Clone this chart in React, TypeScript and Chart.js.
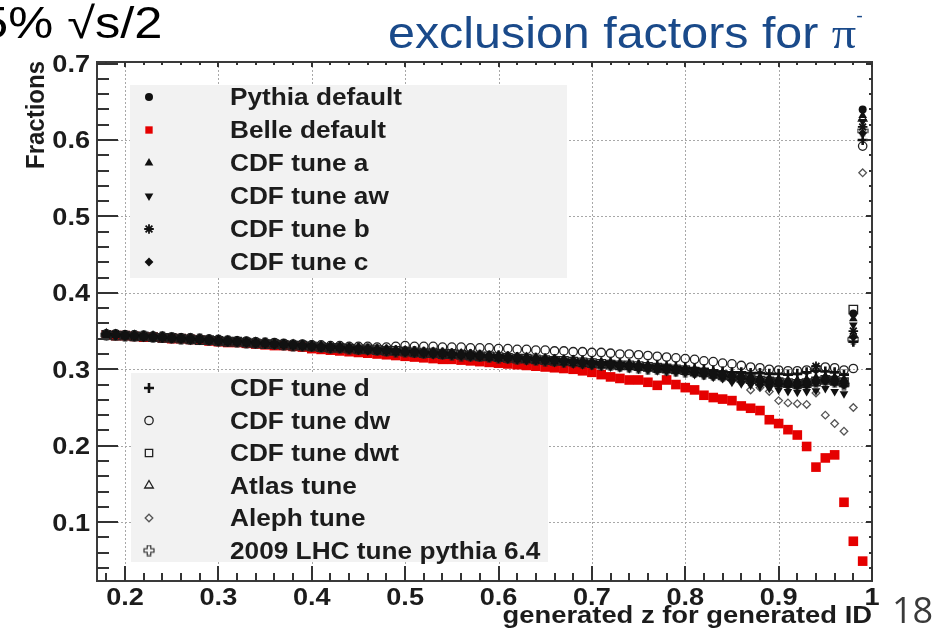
import React, { useEffect, useRef } from "react";
import { Chart, registerables } from "chart.js";
import { drawPoint } from "chart.js/helpers";

Chart.register(...registerables);

// Generated z bin centres (bin width 0.01)
const Z_BINS = [
  0.18, 0.19,
  0.20, 0.21, 0.22, 0.23, 0.24, 0.25, 0.26, 0.27, 0.28, 0.29,
  0.30, 0.31, 0.32, 0.33, 0.34, 0.35, 0.36, 0.37, 0.38, 0.39,
  0.40, 0.41, 0.42, 0.43, 0.44, 0.45, 0.46, 0.47, 0.48, 0.49,
  0.50, 0.51, 0.52, 0.53, 0.54, 0.55, 0.56, 0.57, 0.58, 0.59,
  0.60, 0.61, 0.62, 0.63, 0.64, 0.65, 0.66, 0.67, 0.68, 0.69,
  0.70, 0.71, 0.72, 0.73, 0.74, 0.75, 0.76, 0.77, 0.78, 0.79,
  0.80, 0.81, 0.82, 0.83, 0.84, 0.85, 0.86, 0.87, 0.88, 0.89,
  0.90, 0.91, 0.92, 0.93, 0.94, 0.95, 0.96, 0.97, 0.98, 0.99,
];

// Exclusion fractions per tune
const PYTHIA_DEFAULT = [
  .345, .345,
  .344, .344, .343, .342, .342, .341, .340, .340, .339, .338,
  .337, .337, .336, .335, .334, .334, .333, .332, .332, .331,
  .330, .329, .329, .328, .327, .327, .326, .325, .325, .324,
  .323, .323, .322, .321, .321, .320, .319, .318, .318, .317,
  .316, .315, .315, .314, .313, .312, .312, .311, .310, .309,
  .308, .307, .306, .305, .305, .304, .303, .302, .301, .300,
  .299, .298, .296, .295, .293, .291, .290, .288, .286, .285,
  .284, .283, .282, .283, .285, .287, .286, .284, .373, .640,
];

const BELLE_DEFAULT = [
  .345, .344,
  .344, .343, .342, .342, .341, .340, .340, .339, .338, .337,
  .336, .335, .335, .334, .333, .332, .331, .331, .330, .329,
  .327, .326, .325, .324, .323, .322, .321, .320, .319, .318,
  .317, .316, .315, .314, .313, .313, .312, .311, .310, .309,
  .308, .307, .306, .305, .304, .303, .302, .301, .300, .298,
  .296, .293, .290, .288, .286, .286, .283, .279, .286, .280,
  .276, .273, .266, .263, .261, .259, .252, .249, .246, .234,
  .229, .221, .214, .199, .172, .184, .188, .126, .075, .049,
];

const CDF_A = [
  .346, .345,
  .345, .344, .343, .343, .342, .341, .341, .340, .339, .339,
  .338, .337, .336, .336, .335, .334, .333, .333, .332, .331,
  .331, .330, .329, .328, .328, .327, .327, .326, .325, .325,
  .324, .323, .322, .322, .321, .321, .320, .319, .318, .318,
  .317, .316, .316, .315, .314, .313, .313, .312, .311, .311,
  .310, .309, .308, .307, .306, .306, .305, .304, .303, .302,
  .301, .300, .299, .297, .296, .294, .293, .291, .290, .289,
  .288, .286, .286, .287, .289, .291, .290, .287, .366, .632,
];

const CDF_AW = [
  .344, .344,
  .343, .343, .342, .341, .341, .340, .339, .338, .338, .337,
  .336, .336, .335, .334, .333, .333, .332, .331, .330, .330,
  .329, .328, .327, .327, .326, .325, .324, .324, .323, .322,
  .322, .321, .320, .319, .319, .318, .317, .316, .316, .315,
  .314, .313, .312, .311, .311, .310, .309, .308, .307, .306,
  .305, .304, .303, .302, .301, .300, .299, .298, .297, .296,
  .295, .293, .292, .290, .288, .283, .281, .279, .277, .275,
  .273, .271, .270, .271, .272, .275, .271, .268, .358, .624,
];

const CDF_B = [
  .345, .346,
  .344, .343, .343, .342, .341, .341, .340, .339, .339, .338,
  .337, .336, .336, .335, .334, .333, .333, .332, .331, .330,
  .330, .329, .328, .328, .327, .326, .326, .325, .324, .323,
  .323, .322, .321, .321, .320, .319, .319, .318, .317, .316,
  .315, .315, .314, .313, .312, .312, .311, .310, .309, .308,
  .307, .306, .306, .304, .304, .303, .302, .300, .300, .299,
  .297, .296, .295, .293, .292, .290, .288, .287, .284, .283,
  .281, .281, .279, .280, .304, .286, .284, .281, .350, .617,
];

const CDF_C = [
  .345, .344,
  .344, .343, .342, .342, .341, .340, .340, .339, .338, .338,
  .337, .336, .335, .335, .334, .333, .332, .332, .331, .330,
  .329, .329, .328, .327, .327, .326, .325, .324, .324, .323,
  .322, .322, .321, .320, .319, .319, .318, .317, .316, .316,
  .315, .314, .313, .313, .312, .311, .310, .309, .309, .308,
  .307, .306, .305, .304, .303, .302, .301, .300, .299, .298,
  .297, .295, .294, .292, .291, .289, .287, .285, .283, .281,
  .280, .279, .278, .279, .282, .284, .282, .279, .342, .609,
];

const CDF_D = [
  .346, .345,
  .345, .344, .344, .343, .342, .341, .341, .340, .339, .339,
  .338, .337, .337, .336, .335, .334, .334, .333, .332, .332,
  .331, .330, .330, .329, .328, .328, .327, .326, .326, .325,
  .324, .324, .323, .322, .322, .321, .320, .320, .319, .318,
  .318, .317, .316, .315, .315, .314, .313, .312, .312, .311,
  .310, .309, .309, .308, .307, .306, .305, .305, .304, .303,
  .302, .301, .300, .298, .297, .296, .296, .295, .295, .294,
  .294, .293, .294, .296, .298, .297, .296, .293, .336, .600,
];

const CDF_DW = [
  .346, .346,
  .345, .345, .344, .343, .343, .342, .341, .341, .340, .339,
  .339, .338, .337, .337, .336, .335, .335, .334, .333, .333,
  .332, .332, .331, .331, .330, .330, .330, .329, .329, .330,
  .331, .330, .330, .330, .329, .329, .329, .328, .328, .328,
  .327, .327, .326, .326, .325, .325, .324, .324, .323, .323,
  .322, .322, .321, .320, .320, .319, .318, .317, .316, .315,
  .314, .313, .311, .310, .308, .307, .305, .303, .302, .300,
  .299, .298, .298, .299, .301, .303, .302, .299, .301, .592,
];

const CDF_DWT = [
  .345, .344,
  .344, .343, .343, .342, .341, .341, .340, .339, .338, .338,
  .337, .336, .336, .335, .334, .333, .333, .332, .331, .331,
  .330, .329, .328, .328, .327, .326, .326, .325, .324, .324,
  .323, .322, .321, .321, .320, .320, .319, .318, .317, .317,
  .316, .315, .314, .314, .313, .312, .311, .311, .310, .309,
  .308, .307, .306, .305, .305, .304, .303, .302, .301, .300,
  .299, .297, .296, .294, .292, .291, .289, .287, .285, .284,
  .283, .282, .281, .282, .284, .286, .285, .283, .378, null,
];

const ATLAS_TUNE = [
  .346, .345,
  .344, .344, .343, .343, .342, .341, .340, .340, .339, .338,
  .338, .337, .336, .335, .335, .334, .333, .332, .332, .331,
  .330, .330, .329, .328, .328, .327, .326, .326, .325, .324,
  .324, .323, .322, .322, .321, .320, .320, .319, .318, .317,
  .317, .316, .315, .315, .314, .313, .312, .312, .311, .310,
  .309, .308, .307, .306, .306, .305, .304, .303, .302, .301,
  .300, .299, .297, .296, .294, .293, .291, .289, .288, .286,
  .285, .284, .284, .285, .287, .289, .288, .285, .345, .628,
];

const ALEPH_TUNE = [
  .345, .345,
  .344, .343, .343, .342, .341, .341, .340, .339, .339, .338,
  .337, .337, .336, .335, .334, .334, .333, .332, .331, .331,
  .330, .329, .329, .328, .327, .327, .326, .325, .325, .324,
  .323, .323, .322, .321, .320, .320, .319, .318, .318, .317,
  .316, .315, .315, .314, .313, .312, .311, .311, .310, .309,
  .308, .307, .306, .305, .304, .303, .302, .300, .299, .298,
  .296, .294, .292, .290, .288, .285, .283, .273, .276, .271,
  .259, .256, .255, .254, .269, .240, .229, .219, .250, .557,
];

const LHC_2009 = [
  .345, .345,
  .344, .344, .343, .342, .342, .341, .340, .339, .339, .338,
  .337, .337, .336, .335, .334, .334, .333, .332, .331, .331,
  .330, .329, .328, .328, .327, .326, .326, .325, .324, .323,
  .323, .322, .321, .321, .320, .319, .318, .318, .317, .316,
  .315, .315, .314, .313, .312, .311, .311, .310, .309, .308,
  .307, .306, .305, .304, .303, .302, .301, .300, .299, .298,
  .297, .296, .294, .293, .291, .289, .287, .286, .284, .282,
  .281, .280, .280, .281, .283, .285, .283, .280, .339, .612,
];

// Axis ticks and labels
const X_TICKS = [0.2, 0.3, 0.4, 0.5, 0.6, 0.7, 0.8, 0.9, 1.0];
const X_TICK_LABELS = ["0.2", "0.3", "0.4", "0.5", "0.6", "0.7", "0.8", "0.9", "1"];
const Y_TICKS = [0.1, 0.2, 0.3, 0.4, 0.5, 0.6, 0.7];
const Y_TICK_LABELS = ["0.1", "0.2", "0.3", "0.4", "0.5", "0.6", "0.7"];

const X_TITLE = "generated z for generated ID";
const Y_TITLE = "Fractions";

const X_MIN = 0.17;
const X_MAX = 1.0;
const Y_MIN = 0.023;
const Y_MAX = 0.702;

const INK = "#1c1c1c";
const STRETCH = 1.13;

type Marker = {
  pointStyle: any;
  radius: number;
  fill: string;
  stroke: string;
  borderWidth: number;
  rotation?: number;
};

type Series = { label: string; data: (number | null)[]; marker: Marker; order: number };

function makeOpenCross(): HTMLCanvasElement {
  const c = document.createElement("canvas");
  c.width = 12;
  c.height = 12;
  const g = c.getContext("2d")!;
  const a = 1.8;
  const m = 6;
  const r = 5;
  g.strokeStyle = "#222";
  g.lineWidth = 1.1;
  g.beginPath();
  g.moveTo(m - a, m - r);
  g.lineTo(m + a, m - r);
  g.lineTo(m + a, m - a);
  g.lineTo(m + r, m - a);
  g.lineTo(m + r, m + a);
  g.lineTo(m + a, m + a);
  g.lineTo(m + a, m + r);
  g.lineTo(m - a, m + r);
  g.lineTo(m - a, m + a);
  g.lineTo(m - r, m + a);
  g.lineTo(m - r, m - a);
  g.lineTo(m - a, m - a);
  g.closePath();
  g.stroke();
  return c;
}

function buildSeries(openCross: HTMLCanvasElement): Series[] {
  const none = "rgba(0,0,0,0)";
  return [
    { label: "Pythia default", data: PYTHIA_DEFAULT, order: 0,
      marker: { pointStyle: "circle", radius: 4, fill: "#111", stroke: "#111", borderWidth: 0 } },
    { label: "Belle default", data: BELLE_DEFAULT, order: 1,
      marker: { pointStyle: "rect", radius: 6.8, fill: "#e50000", stroke: "#e50000", borderWidth: 0 } },
    { label: "CDF tune a", data: CDF_A, order: 0,
      marker: { pointStyle: "triangle", radius: 5, fill: "#111", stroke: "#111", borderWidth: 0 } },
    { label: "CDF tune aw", data: CDF_AW, order: 0,
      marker: { pointStyle: "triangle", radius: 5, fill: "#111", stroke: "#111", borderWidth: 0, rotation: 180 } },
    { label: "CDF tune b", data: CDF_B, order: 0,
      marker: { pointStyle: "star", radius: 4.8, fill: "#111", stroke: "#111", borderWidth: 1.8 } },
    { label: "CDF tune c", data: CDF_C, order: 0,
      marker: { pointStyle: "rectRot", radius: 4.4, fill: "#111", stroke: "#111", borderWidth: 0 } },
    { label: "CDF tune d", data: CDF_D, order: 0,
      marker: { pointStyle: "cross", radius: 5, fill: "#111", stroke: "#111", borderWidth: 2.6 } },
    { label: "CDF tune dw", data: CDF_DW, order: 0,
      marker: { pointStyle: "circle", radius: 4.2, fill: none, stroke: "#222", borderWidth: 1.3 } },
    { label: "CDF tune dwt", data: CDF_DWT, order: 0,
      marker: { pointStyle: "rect", radius: 6, fill: none, stroke: "#222", borderWidth: 1.3 } },
    { label: "Atlas tune", data: ATLAS_TUNE, order: 0,
      marker: { pointStyle: "triangle", radius: 5, fill: none, stroke: "#222", borderWidth: 1.3 } },
    { label: "Aleph tune", data: ALEPH_TUNE, order: 0,
      marker: { pointStyle: "rectRot", radius: 3.8, fill: none, stroke: "#555", borderWidth: 1.3 } },
    { label: "2009 LHC tune pythia 6.4", data: LHC_2009, order: 0,
      marker: { pointStyle: openCross, radius: 5, fill: none, stroke: "#222", borderWidth: 1 } },
  ];
}

function stretchedText(
  ctx: CanvasRenderingContext2D,
  text: string,
  x: number,
  y: number,
  align: CanvasTextAlign,
  px: number,
  sx = STRETCH
) {
  ctx.save();
  ctx.translate(x, y);
  ctx.scale(sx, 1);
  ctx.font = `bold ${px}px "Liberation Sans", Arial, sans-serif`;
  ctx.textAlign = align;
  ctx.textBaseline = "alphabetic";
  ctx.fillStyle = INK;
  ctx.fillText(text, 0, 0);
  ctx.restore();
}

const LEGEND_PANELS = [
  { x: 130, y: 85, w: 437, h: 193, firstRow: 97, step: 33, from: 0, to: 6 },
  { x: 131, y: 373, w: 417, h: 189, firstRow: 388, step: 32.5, from: 6, to: 12 },
];

function makeRootFramePlugin(series: Series[]) {
  return {
    id: "rootFrame",
    beforeDatasetsDraw(chart: any) {
      const { ctx, chartArea: a, scales } = chart;
      const xs = scales.x;
      const ys = scales.y;
      ctx.save();
      // dotted grid at the major ticks
      ctx.strokeStyle = "#a8a8a8";
      ctx.lineWidth = 1;
      ctx.setLineDash([2, 2]);
      X_TICKS.forEach((v) => {
        if (v >= X_MAX) return;
        const px = Math.round(xs.getPixelForValue(v)) + 0.5;
        ctx.beginPath();
        ctx.moveTo(px, a.top);
        ctx.lineTo(px, a.bottom);
        ctx.stroke();
      });
      Y_TICKS.forEach((v) => {
        if (v >= Y_MAX - 0.005) return;
        const py = Math.round(ys.getPixelForValue(v)) + 0.5;
        ctx.beginPath();
        ctx.moveTo(a.left, py);
        ctx.lineTo(a.right, py);
        ctx.stroke();
      });
      ctx.setLineDash([]);
      // legend panels
      ctx.fillStyle = "#f2f2f2";
      LEGEND_PANELS.forEach((p) => ctx.fillRect(p.x, p.y, p.w, p.h));
      ctx.restore();
    },
    afterDatasetsDraw(chart: any) {
      const { ctx, chartArea: a, scales } = chart;
      const xs = scales.x;
      const ys = scales.y;
      ctx.save();

      // legend entries
      LEGEND_PANELS.forEach((p) => {
        for (let i = p.from; i < p.to; i++) {
          const s = series[i];
          const cy = p.firstRow + (i - p.from) * p.step;
          ctx.save();
          ctx.fillStyle = s.marker.fill;
          ctx.strokeStyle = s.marker.stroke;
          ctx.lineWidth = s.marker.borderWidth;
          drawPoint(
            ctx,
            {
              pointStyle: s.marker.pointStyle,
              rotation: s.marker.rotation || 0,
              radius: Math.min(s.marker.radius, 5.2),
              borderWidth: s.marker.borderWidth,
            } as any,
            149,
            cy
          );
          ctx.restore();
          stretchedText(ctx, s.label, 230, cy + 8, "left", 23, 1.14);
        }
      });

      // frame
      ctx.strokeStyle = "#3a3a3a";
      ctx.lineWidth = 2;
      ctx.strokeRect(a.left, a.top, a.right - a.left, a.bottom - a.top);

      // tick marks, drawn inside the frame
      ctx.lineWidth = 2;
      ctx.strokeStyle = "#333";
      for (let k = 9; k <= 50; k++) {
        const v = k * 0.02;
        if (v < X_MIN - 1e-9 || v > X_MAX + 1e-9) continue;
        const major = k % 5 === 0;
        const px = Math.round(xs.getPixelForValue(v));
        ctx.beginPath();
        ctx.moveTo(px, a.bottom);
        ctx.lineTo(px, a.bottom - (major ? 15 : 8));
        ctx.moveTo(px, a.top);
        ctx.lineTo(px, a.top + (major ? 5 : 3));
        ctx.stroke();
      }
      for (let k = 2; k <= 35; k++) {
        const v = k * 0.02;
        if (v < Y_MIN - 1e-9 || v > Y_MAX + 1e-9) continue;
        const major = k % 5 === 0;
        const py = Math.round(ys.getPixelForValue(v));
        ctx.beginPath();
        ctx.moveTo(a.left, py);
        ctx.lineTo(a.left + (major ? 21 : 12), py);
        ctx.moveTo(a.right, py);
        ctx.lineTo(a.right - (major ? 6 : 3), py);
        ctx.stroke();
      }

      // tick labels
      X_TICKS.forEach((v, i) => {
        stretchedText(ctx, X_TICK_LABELS[i], xs.getPixelForValue(v), 605, "center", 24);
      });
      Y_TICKS.forEach((v, i) => {
        stretchedText(ctx, Y_TICK_LABELS[i], 90, ys.getPixelForValue(v) + 8.5, "right", 24);
      });

      // axis titles
      stretchedText(ctx, X_TITLE, a.right, 623, "right", 24, 1.14);
      ctx.save();
      ctx.translate(44, a.top - 1);
      ctx.rotate(-Math.PI / 2);
      ctx.scale(1, 1.1);
      ctx.font = 'bold 24px "Liberation Sans", Arial, sans-serif';
      ctx.textAlign = "right";
      ctx.fillStyle = INK;
      ctx.fillText(Y_TITLE, 0, 0);
      ctx.restore();

      ctx.restore();
    },
  };
}

export default function App() {
  const canvasRef = useRef<HTMLCanvasElement>(null);

  useEffect(() => {
    const canvas = canvasRef.current;
    if (!canvas) return;
    const series = buildSeries(makeOpenCross());
    const chart = new Chart(canvas, {
      type: "scatter",
      data: {
        datasets: series.map((s) => ({
          label: s.label,
          order: s.order,
          data: Z_BINS.map((z, i) => ({ x: z, y: s.data[i] })).filter((p) => p.y !== null) as any,
          pointStyle: s.marker.pointStyle,
          pointRadius: s.marker.radius,
          pointHoverRadius: s.marker.radius,
          pointRotation: s.marker.rotation || 0,
          pointBackgroundColor: s.marker.fill,
          pointBorderColor: s.marker.stroke,
          pointBorderWidth: s.marker.borderWidth,
          showLine: false,
        })),
      },
      options: {
        responsive: false,
        devicePixelRatio: 1,
        animation: false,
        events: [],
        layout: { padding: { left: 97, right: 77, top: 62, bottom: 56 } },
        plugins: { legend: { display: false }, tooltip: { enabled: false } },
        scales: {
          x: { type: "linear", min: X_MIN, max: X_MAX, display: false },
          y: { type: "linear", min: Y_MIN, max: Y_MAX, display: false },
        },
      },
      plugins: [makeRootFramePlugin(series)],
    });
    return () => chart.destroy();
  }, []);

  return (
    <div
      style={{
        position: "fixed",
        left: 0,
        top: 0,
        width: 949,
        height: 637,
        background: "#fff",
        overflow: "hidden",
      }}
    >
      <canvas
        ref={canvasRef}
        width={949}
        height={637}
        style={{ position: "absolute", left: 0, top: 0, width: 949, height: 637 }}
      />
      <div
        style={{
          position: "absolute",
          left: -20,
          top: 1,
          font: '44px "Liberation Sans", Arial, sans-serif',
          lineHeight: 1,
          color: "#000",
          whiteSpace: "nowrap",
          transform: "scaleX(1.15)",
          transformOrigin: "left top",
        }}
      >
        5% √s/2
      </div>
      <div
        style={{
          position: "absolute",
          left: 388,
          top: 11,
          font: '44px "Liberation Sans", Arial, sans-serif',
          lineHeight: 1,
          color: "#1a4a8a",
          whiteSpace: "nowrap",
          transform: "scaleX(1.1)",
          transformOrigin: "left top",
        }}
      >
        exclusion factors for{" "}
        <span style={{ fontFamily: '"Liberation Serif", "DejaVu Serif", serif' }}>π</span>
        <sup style={{ fontSize: 18, verticalAlign: "top", position: "relative", top: -4 }}>-</sup>
      </div>
      <div
        style={{
          position: "absolute",
          left: 892,
          top: 592,
          font: '36px "Open Sans", "Noto Sans", sans-serif',
          lineHeight: 1,
          color: "#3a3a3a",
          whiteSpace: "nowrap",
        }}
      >
        18
      </div>
    </div>
  );
}
